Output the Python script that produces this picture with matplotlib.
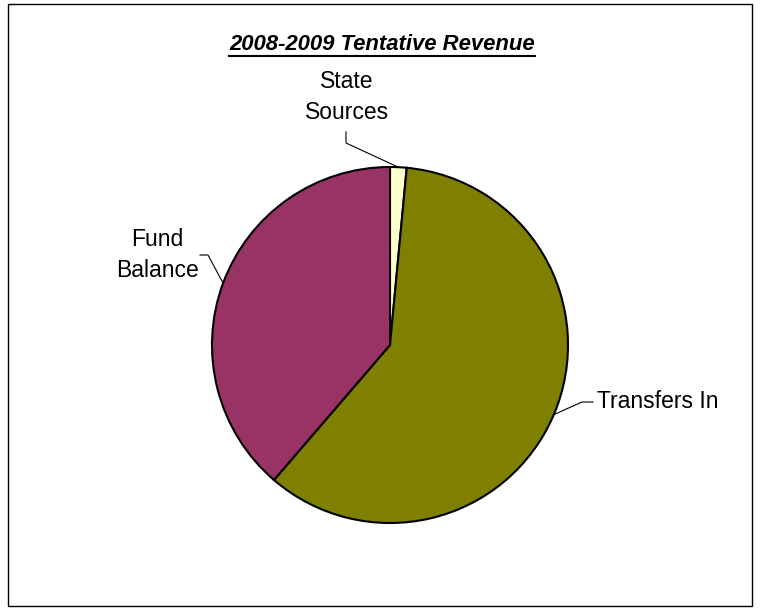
import numpy as np
import matplotlib
matplotlib.use("Agg")
import matplotlib.pyplot as plt
from matplotlib.lines import Line2D
from matplotlib.patches import Rectangle

plt.rcParams['font.family'] = ['Liberation Sans', 'DejaVu Sans']

# Доли источников дохода (%)
labels = ["State\nSources", "Transfers In", "Fund\nBalance"]
values = [1.5, 59.8, 38.7]
colors = ["#FFFFCC", "#808000", "#993366"]
title = "2008-2009 Tentative Revenue"

W, H = 760, 609
fig = plt.figure(figsize=(W / 100, H / 100), dpi=100)

# Рамка вокруг всей диаграммы
fig.add_artist(Rectangle((8 / W, 1 - 606 / H), 744 / W, 602 / H,
                         transform=fig.transFigure, fill=False,
                         edgecolor="black", linewidth=1))

# Круг: центр (390, 345), радиус 178 px
cx, cy, r = 390, 345, 178
ax = fig.add_axes([(cx - r) / W, 1 - (cy + r) / H, 2 * r / W, 2 * r / H])
wedges, _ = ax.pie(values, colors=colors, startangle=90, counterclock=False,
                   radius=1, wedgeprops=dict(edgecolor="black", linewidth=1.5))
ax.set_xlim(-1, 1)
ax.set_ylim(-1, 1)
ax.set_aspect("equal")
ax.axis("off")


def px(x, y):
    # пиксели картинки -> координаты осей круга
    return (x - cx) / r, (cy - y) / r


def mid_point(w):
    ang = np.deg2rad((w.theta1 + w.theta2) / 2)
    return np.cos(ang), np.sin(ang)


# Выноски: номер сектора, точки ломаной от подписи, позиция текста, выравнивание
callouts = [
    (0, [px(346, 132), px(346, 143)], px(347, 97), "center"),
    (2, [px(200, 255), px(208, 255)], px(157, 255), "center"),
    (1, [px(593, 402), px(582, 402)], px(597, 402), "left"),
]

for idx, pts, tpos, ha in callouts:
    mx, my = mid_point(wedges[idx])
    xs = [p[0] for p in pts] + [mx]
    ys = [p[1] for p in pts] + [my]
    ax.add_line(Line2D(xs, ys, color="black", linewidth=0.8, clip_on=False))
    ax.text(tpos[0], tpos[1], labels[idx], ha=ha, va="center",
            fontsize=16.5, linespacing=1.45, clip_on=False)

# Заголовок с подчёркиванием
t = fig.text(382 / W, 1 - 45 / H, title, ha="center", va="center",
             fontsize=15.9, fontweight="bold", fontstyle="italic")
fig.canvas.draw()
bb = t.get_window_extent()
uy = 1 - 56 / H
fig.add_artist(Line2D([bb.x0 / W, bb.x1 / W], [uy, uy],
                      transform=fig.transFigure, color="black", linewidth=1.5))

fig.savefig("out.png", dpi=100)
